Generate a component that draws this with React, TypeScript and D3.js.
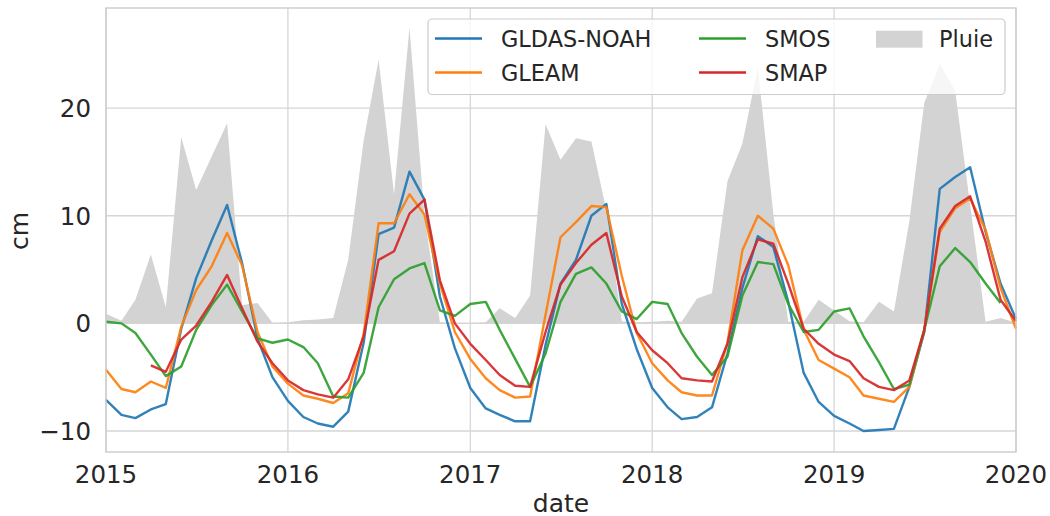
import React from "react";
import * as d3 from "d3";

// Monthly dates Jan 2015 .. Jan 2020 (61 points)
const startDate = new Date(2015, 0, 1);
const endDate = new Date(2020, 0, 1);
const months: Date[] = d3.timeMonth.range(startDate, new Date(2020, 0, 2));

const xTickYears = [2015, 2016, 2017, 2018, 2019, 2020];
const yTicks = [-10, 0, 10, 20];

const gldas: (number | null)[] = [
  -7.1, -8.5, -8.8, -8.0, -7.5, -0.5, 4.2, 7.7, 11.0, 5.6, -1.4, -5.0,
  -7.2, -8.7, -9.3, -9.6, -8.2, -1.8, 8.3, 8.9, 14.1, 11.5, 2.5, -2.3,
  -6.0, -7.9, -8.5, -9.1, -9.1, -2.0, 3.7, 5.9, 10.0, 11.1, 1.8, -2.4,
  -6.0, -7.8, -8.9, -8.7, -7.8, -2.8, 3.3, 8.1, 7.1, 2.0, -4.6, -7.3,
  -8.6, -9.3, -10.0, -9.9, -9.8, -5.9, -0.8, 12.5, 13.6, 14.5, 8.5, 3.7,
  0.4,
];

const gleam: (number | null)[] = [
  -4.3, -6.1, -6.4, -5.4, -6.0, -0.3, 3.1, 5.3, 8.4, 5.4, -0.8, -4.0,
  -5.6, -6.7, -7.0, -7.4, -6.5, -1.0, 9.3, 9.3, 12.0, 10.1, 3.7, -0.8,
  -3.3, -5.1, -6.2, -6.9, -6.8, 0.8, 8.0, 9.4, 10.9, 10.8, 4.4, -0.9,
  -3.7, -5.3, -6.4, -6.7, -6.7, -1.8, 6.8, 10.0, 8.8, 5.4, -0.6, -3.4,
  -4.2, -5.0, -6.7, -7.0, -7.3, -5.9, -0.6, 8.5, 10.7, 11.6, 8.7, 3.3,
  -0.5,
];

const smos: (number | null)[] = [
  0.15, 0.0, -0.9, -2.9, -4.9, -4.0, -0.6, 1.7, 3.6, 1.1, -1.4, -1.8,
  -1.5, -2.2, -3.7, -6.8, -6.9, -4.6, 1.5, 4.1, 5.1, 5.6, 1.2, 0.7,
  1.8, 2.0, -0.6, -3.3, -5.9, -2.8, 2.0, 4.6, 5.2, 3.7, 1.1, 0.4,
  2.0, 1.8, -0.9, -3.1, -4.8, -3.1, 2.6, 5.7, 5.5, 1.8, -0.8, -0.6,
  1.1, 1.4, -1.2, -3.6, -6.1, -5.7, -0.6, 5.3, 7.0, 5.7, 3.7, 1.9,
  null,
];

const smap: (number | null)[] = [
  null, null, null, -3.9, -4.5, -1.5, -0.2, 2.0, 4.5, 1.4, -1.7, -3.7,
  -5.3, -6.2, -6.6, -6.9, -5.2, -1.2, 5.9, 6.7, 10.2, 11.5, 4.0, 0.0,
  -1.9, -3.4, -4.8, -5.8, -5.9, -0.8, 3.6, 5.6, 7.3, 8.4, 2.5, -0.8,
  -2.5, -3.7, -5.1, -5.3, -5.4, -1.9, 4.3, 7.8, 7.4, 3.7, -0.5, -1.9,
  -2.9, -3.5, -5.1, -5.9, -6.2, -5.3, -0.6, 8.8, 10.9, 11.8, 7.6, 2.2,
  0.2,
];

const pluie: number[] = [
  0.9, 0.25, 2.2, 6.4, 1.5, 17.3, 12.4, 15.5, 18.6, 1.7, 1.9, 0.05,
  0.1, 0.3, 0.35, 0.5, 5.9, 17.0, 24.5, 12.0, 27.5, 10.0, 0.1, 0.05,
  0.05, 0.1, 1.4, 0.5, 2.6, 18.5, 15.2, 17.2, 16.9, 10.5, 0.2, 0.1,
  0.15, 0.25, 0.15, 2.3, 2.8, 13.2, 16.7, 23.8, 10.2, 0.15, 0.15, 2.2,
  1.2, 0.2, 0.1, 2.0, 1.1, 9.5, 20.5, 24.1, 21.6, 11.0, 0.15, 0.5,
  0.05,
];

const seriesNames = ["GLDAS-NOAH", "GLEAM", "SMOS", "SMAP"];
const seriesColors = ["#1f77b4", "#ff7f0e", "#2ca02c", "#d62728"];
const seriesValues = [gldas, gleam, smos, smap];

const W = 1050;
const H = 516;
const left = 106;
const right = 1016;
const top = 8;
const bottom = 452;
const FONT = "DejaVu Sans, sans-serif";
const TXT = "#262626";
const FS_LEG = 22.4;
const FS_TICK = 24.5;
const FS_LAB = 25;

export default function App() {
  const x = d3.scaleTime().domain([startDate, endDate]).range([left, right]);
  const y = d3.scaleLinear().domain([-11.95, 29.3]).range([bottom, top]);

  const line = d3
    .line<number | null>()
    .defined((d) => d != null)
    .x((_, i) => x(months[i]))
    .y((d) => y(d as number));

  const area = d3
    .area<number>()
    .x((_, i) => x(months[i]))
    .y0(y(0))
    .y1((d) => y(d));

  const gridColor = "#d6d6d6";

  const legendRows = [
    { name: seriesNames[0], color: seriesColors[0], lx: 435, tx: 501, ly: 38.5 },
    { name: seriesNames[1], color: seriesColors[1], lx: 435, tx: 501, ly: 72.5 },
    { name: seriesNames[2], color: seriesColors[2], lx: 699, tx: 765, ly: 38.5 },
    { name: seriesNames[3], color: seriesColors[3], lx: 699, tx: 765, ly: 72.5 },
  ];

  return (
    <svg
      width={W}
      height={H}
      style={{ position: "absolute", left: 0, top: 0, background: "#fff" }}
      fontFamily={FONT}
    >
      <rect x={0} y={0} width={W} height={H} fill="#fff" />
      {/* grid */}
      {xTickYears.map((yr) => {
        const xx = x(new Date(yr, 0, 1));
        return <line key={"gx" + yr} x1={xx} x2={xx} y1={top} y2={bottom} stroke={gridColor} strokeWidth={1.3} />;
      })}
      {yTicks.map((t) => (
        <line key={"gy" + t} x1={left} x2={right} y1={y(t)} y2={y(t)} stroke={gridColor} strokeWidth={1.3} />
      ))}
      {/* rain */}
      <path d={area(pluie) || ""} fill="#d3d3d3" stroke="none" />
      {/* lines */}
      {seriesValues.map((vals, i) => (
        <path
          key={seriesNames[i]}
          d={line(vals) || ""}
          fill="none"
          stroke={seriesColors[i]}
          strokeWidth={2.4}
          strokeOpacity={0.92}
          strokeLinejoin="round"
        />
      ))}
      {/* spines */}
      <rect x={left} y={top} width={right - left} height={bottom - top} fill="none" stroke="#cccccc" strokeWidth={1.4} />
      {/* tick labels */}
      {xTickYears.map((yr) => (
        <text key={"tx" + yr} x={x(new Date(yr, 0, 1))} y={482.5} textAnchor="middle" fontSize={FS_TICK} fill={TXT}>
          {String(yr)}
        </text>
      ))}
      {yTicks.map((t) => (
        <text key={"ty" + t} x={91} y={y(t)} dy="0.36em" textAnchor="end" fontSize={FS_TICK} fill={TXT}>
          {t < 0 ? "\u2212" + Math.abs(t) : String(t)}
        </text>
      ))}
      {/* axis labels */}
      <text x={(left + right) / 2} y={512} textAnchor="middle" fontSize={FS_LAB} fill={TXT}>
        date
      </text>
      <text
        transform={`translate(27.5, ${231}) rotate(-90)`}
        textAnchor="middle"
        fontSize={FS_LAB}
        fill={TXT}
      >
        cm
      </text>
      {/* legend */}
      <rect x={428} y={19} width={577} height={75.5} rx={4} ry={4} fill="#fff" fillOpacity={0.8} stroke="#cccccc" strokeWidth={1.2} />
      {legendRows.map((r) => (
        <g key={r.name}>
          <line x1={r.lx} x2={r.lx + 47} y1={r.ly} y2={r.ly} stroke={r.color} strokeWidth={2.4} />
          <text x={r.tx} y={r.ly + 8.2} fontSize={FS_LEG} fill={TXT}>
            {r.name}
          </text>
        </g>
      ))}
      <rect x={876} y={30.7} width={46.5} height={17} fill="#d3d3d3" />
      <text x={939} y={46.7} fontSize={FS_LEG} fill={TXT}>
        Pluie
      </text>
    </svg>
  );
}
